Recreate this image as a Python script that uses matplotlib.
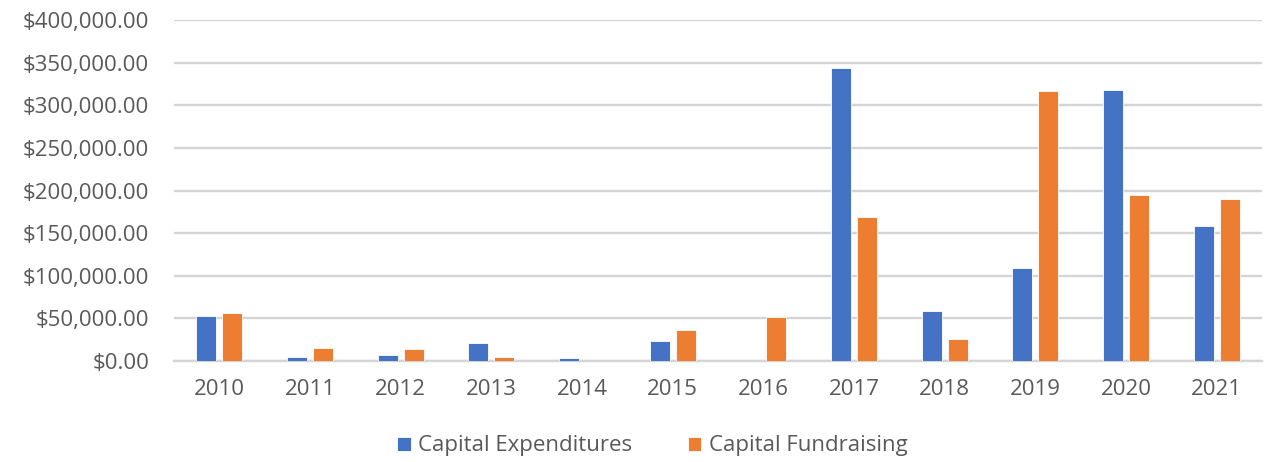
import matplotlib
matplotlib.use("Agg")
import matplotlib.pyplot as plt
import numpy as np
from matplotlib.ticker import FuncFormatter, MultipleLocator

years = ["2010", "2011", "2012", "2013", "2014", "2015", "2016", "2017", "2018", "2019", "2020", "2021"]
capital_expenditures = [53100, 5100, 6600, 21500, 3500, 23000, 0, 343300, 58700, 108700, 317900, 158400]
capital_fundraising = [56300, 15600, 14100, 5100, 0, 36700, 51600, 169000, 25800, 316700, 194700, 190000]

plt.rcParams['font.family'] = ['Open Sans', 'DejaVu Sans']

fig = plt.figure(figsize=(12.77, 4.62), dpi=100)
ax = fig.add_axes([174/1277, 1 - 361/462, (1262 - 174)/1277, (361 - 20)/462])

x = np.arange(len(years))
w = 0.22
off = 0.142
ax.bar(x - off, capital_expenditures, width=w, color="#4472C4", edgecolor="white", linewidth=0.6,
       label="Capital Expenditures", zorder=3)
ax.bar(x + off, capital_fundraising, width=w, color="#ED7D31", edgecolor="white", linewidth=0.6,
       label="Capital Fundraising", zorder=3)

ax.set_xlim(-0.5, len(years) - 0.5)
ax.set_ylim(0, 400000)
ax.yaxis.set_major_locator(MultipleLocator(50000))
ax.yaxis.set_major_formatter(FuncFormatter(lambda v, p: "${:,.2f}".format(v)))
ax.set_xticks(x)
ax.set_xticklabels(years)

ax.grid(axis="y", color="#D4D4D4", linewidth=1.7, zorder=0)
for s in ["top", "right", "left"]:
    ax.spines[s].set_visible(False)
ax.spines["bottom"].set_color("#D4D4D4")
ax.spines["bottom"].set_linewidth(1.7)
ax.tick_params(axis="both", length=0, colors="#595959", labelsize=16)
ax.tick_params(axis="y", pad=18)
ax.tick_params(axis="x", pad=13)

leg = fig.legend(loc="center", bbox_to_anchor=(0.511, 1 - 446/462), ncol=2, frameon=False,
                 fontsize=16, handlelength=0.6, handleheight=0.6, columnspacing=2.5,
                 handletextpad=0.35)
for t in leg.get_texts():
    t.set_color("#595959")

fig.savefig("out.png", dpi=100)
